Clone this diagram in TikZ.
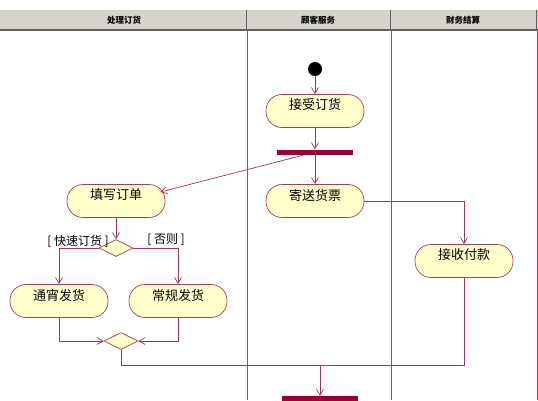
\documentclass[tikz,border=0pt]{standalone}
\usepackage{fontspec}
\newfontfamily\cjk{Noto Sans CJK SC}
\usetikzlibrary{positioning, shapes.geometric, arrows.meta, calc}

\definecolor{laneline}{HTML}{C03A70}
\definecolor{flowline}{HTML}{A8305A}
\definecolor{actfill}{HTML}{FFFFCC}
\definecolor{actdraw}{HTML}{A04060}
\definecolor{barfill}{HTML}{990033}
\definecolor{headfill}{HTML}{D6D3CC}
\definecolor{headline}{HTML}{606060}

\tikzset{
  act/.style={draw=actdraw, fill=actfill, line width=0.7pt, rounded corners=16pt,
    minimum width=98pt, minimum height=33pt, inner sep=2pt, text depth=13pt,
    font=\cjk\fontsize{13}{15}\selectfont},
  dec/.style={diamond, draw=actdraw, fill=actfill, line width=0.7pt,
    minimum width=34pt, minimum height=17pt, inner sep=0pt},
  syncbar/.style={fill=barfill, minimum width=76pt, minimum height=5pt, inner sep=0pt},
  flow/.style={draw=flowline, line width=0.7pt, -{Straight Barb[length=6pt,width=7pt]}},
  plain/.style={draw=flowline, line width=0.7pt},
  guard/.style={font=\cjk\fontsize{12}{14}\selectfont},
  lanehead/.style={font=\cjk\bfseries\fontsize{8.5}{10}\selectfont}
}

\begin{document}
\begin{tikzpicture}[x=1pt, y=-1pt]
  \useasboundingbox (0,0) rectangle (538,400);
  \clip (0,0) rectangle (538,400);

  % swimlane header
  \fill[headfill] (0,10) rectangle (538,29);
  \fill[headline] (0,29) rectangle (538,31);
  \foreach \x in {246,390,536}{
    \draw[headline, line width=1pt] (\x,10) -- (\x,29);
    \draw[laneline, line width=0.9pt] (\x+1,31) -- (\x+1,400);
  }
  \node[lanehead] (laneA) at (124,20) {处理订货};
  \node[lanehead] (laneB) at (318,20) {顾客服务};
  \node[lanehead] (laneC) at (463,20) {财务结算};

  % activities
  \node[circle, fill=black, minimum size=14pt, inner sep=0pt] (start) at (315,69) {};
  \node[act] (accept) at (315,111) {接受订货};
  \node[syncbar] (fork) at (315,152) {};
  \node[act] (send) at (315,201) {寄送货票};
  \node[act] (fill) at (116,201) {填写订单};
  \node[dec] (choice) at (116,248) {};
  \node[guard] (fast) at (78,241) {[ 快速订货 ]};
  \node[guard] (other) at (166,240) {[ 否则 ]};
  \node[act] (night) at (59,301) {通宵发货};
  \node[act] (normal) at (178,301) {常规发货};
  \node[dec] (merge) at (121,341) {};
  \node[act] (pay) at (464,261) {接收付款};
  \node[syncbar, minimum height=8pt] (join) at (320,400) {};
  \coordinate (mid) at (320,365);

  % connectors
  \draw[flow] (start) -- (accept);
  \draw[flow] (accept) -- (fork);
  \draw[flow] (fork) -- (send);
  \draw[flow] ([xshift=-10pt]fork.south) -- ($(fill.east)+(-5,-9)$);
  \draw[flow] (fill) -- (choice);
  \draw[flow] (choice.west) -| (night.north);
  \draw[flow] (choice.east) -| (normal.north);
  \draw[flow] (night.south) |- (merge.west);
  \draw[flow] (normal.south) |- (merge.east);
  \draw[flow] (send.east) -| (pay.north);
  \draw[plain] (merge.south) |- (mid);
  \draw[plain] (pay.south) |- (mid);
  \draw[flow] (mid) -- (join.north);
\end{tikzpicture}
\end{document}
